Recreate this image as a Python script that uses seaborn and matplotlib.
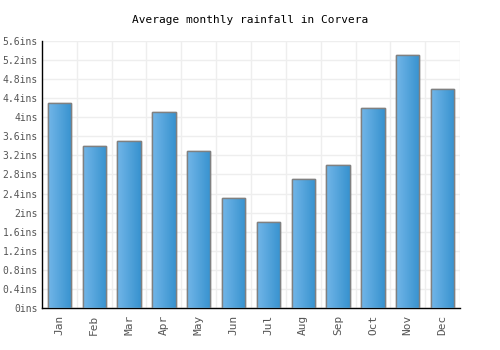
import numpy as np
import pandas as pd
import seaborn as sns
from matplotlib import pyplot as plt
from matplotlib.colors import LinearSegmentedColormap

months = ['Jan', 'Feb', 'Mar', 'Apr', 'May', 'Jun', 'Jul', 'Aug', 'Sep', 'Oct', 'Nov', 'Dec']
rainfall = [4.3, 3.4, 3.5, 4.1, 3.3, 2.3, 1.8, 2.7, 3.0, 4.2, 5.3, 4.6]
yticks = [0, 0.4, 0.8, 1.2, 1.6, 2, 2.4, 2.8, 3.2, 3.6, 4, 4.4, 4.8, 5.2, 5.6]
ytick_labels = ['0ins', '0.4ins', '0.8ins', '1.2ins', '1.6ins', '2ins', '2.4ins', '2.8ins',
                '3.2ins', '3.6ins', '4ins', '4.4ins', '4.8ins', '5.2ins', '5.6ins']

df = pd.DataFrame({'month': months, 'rain': rainfall})

sns.set_style('white')
plt.rcParams['font.family'] = ['DejaVu Sans Mono']

fig = plt.figure(figsize=(5, 3.5), dpi=100)
ax = fig.add_axes([0.084, 0.12, 0.836, 0.763])

sns.barplot(data=df, x='month', y='rain', color='#4a9fdc', width=0.67,
            edgecolor='#808080', linewidth=1, ax=ax, zorder=3)

# gradient fill inside each bar
cmap = LinearSegmentedColormap.from_list('bar', ['#72b6e8', '#3792cf'])
grad = np.linspace(0, 1, 64).reshape(1, -1)
for p in ax.patches:
    x0, y0 = p.get_x(), p.get_y()
    w, h = p.get_width(), p.get_height()
    im = ax.imshow(grad, cmap=cmap, aspect='auto', extent=[x0, x0 + w, y0, y0 + h],
                   zorder=3.5, interpolation='bilinear')
    im.set_clip_path(p)
    ax.add_patch(plt.Rectangle((x0, y0), w, h, fill=False, edgecolor='#808080',
                               linewidth=1, zorder=4))

ax.set_xlim(-0.5, len(months) - 0.5)
ax.set_ylim(0, 5.6)
ax.set_yticks(yticks)
ax.set_yticklabels(ytick_labels)
ax.set_xticks(range(len(months)))
ax.set_xticklabels(months, rotation=90)

# grid: horizontal at ticks, vertical at category boundaries
for yv in yticks:
    ax.axhline(yv, color='#eeeeee', linewidth=1, zorder=0)
for xv in np.arange(0.5, len(months), 1):
    ax.axvline(xv, color='#eeeeee', linewidth=1, zorder=0)

ax.tick_params(axis='x', length=0, labelsize=8, colors='#555555', pad=5)
ax.tick_params(axis='y', length=0, labelsize=7, colors='#555555', pad=3)
ax.set_xlabel('')
ax.set_ylabel('')
for side in ['top', 'right']:
    ax.spines[side].set_visible(False)
for side in ['left', 'bottom']:
    ax.spines[side].set_color('black')
    ax.spines[side].set_linewidth(1)

fig.text(0.5, 0.943, 'Average monthly rainfall in Corvera', ha='center', va='center',
         fontsize=8, color='black')

fig.savefig('out.png', dpi=100)
